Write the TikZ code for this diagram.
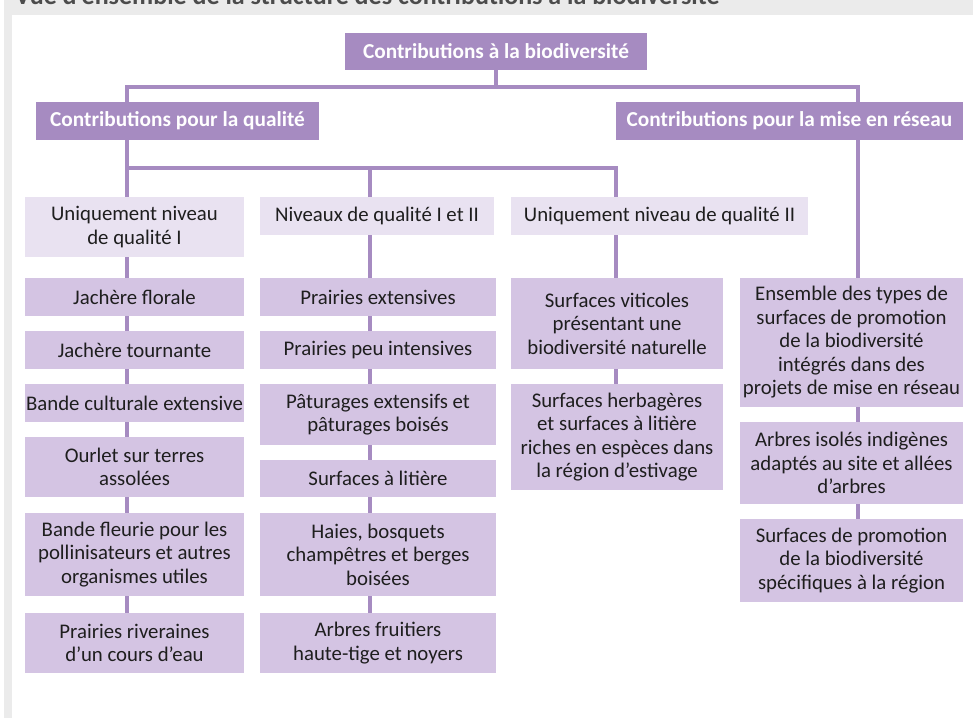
\documentclass[tikz,border=0pt]{standalone}
\usepackage{fontspec}
\setmainfont{Carlito}
\usetikzlibrary{calc}
\definecolor{mauve}{HTML}{A68BC1}
\definecolor{lilas}{HTML}{D4C4E3}
\definecolor{lilasclair}{HTML}{E9E2F1}
\definecolor{fond}{HTML}{EBEBEB}
\definecolor{encre}{HTML}{1E1E1E}
\tikzset{
    head/.style={fill=mauve, text=white, inner sep=0pt, align=center,
        font=\bfseries\fontsize{21.3}{24}\selectfont},
    level/.style={fill=lilasclair, text=encre, inner sep=0pt, align=center,
        font=\fontsize{20.8}{23.5}\selectfont},
    box/.style={fill=lilas, text=encre, inner sep=0pt, align=center,
        font=\fontsize{20.8}{23.5}\selectfont},
    titre/.style={text=black!70, inner sep=0pt, font=\bfseries\fontsize{26}{28}\selectfont},
    link/.style={draw=mauve, line width=4pt}
}

\begin{document}
\begin{tikzpicture}[x=1pt, y=-1pt]
    \useasboundingbox (0,0) rectangle (973,718);
    % cadre gris
    \fill[fond] (4,0) rectangle (973,15);
    \fill[fond] (4,0) rectangle (12,718);
    \begin{scope}
        \clip (4,0) rectangle (973,15);
        \node[titre, anchor=base west] (titre) at (15,4) {Vue d’ensemble de la structure des contributions à la biodiversité};
    \end{scope}

    % niveaux superieurs
    \node[head, minimum width=302, minimum height=37] (root) at (496,51.5) {Contributions à la biodiversité};
    \node[head, minimum width=283, minimum height=38] (qual) at (177.5,121) {Contributions pour la qualité};
    \node[head, minimum width=347, minimum height=38] (res) at (789.5,121) {Contributions pour la mise en réseau};
    \node[level, minimum width=219, minimum height=60] (nA) at (134.5,227) {Uniquement niveau\\de qualité I};
    \node[level, minimum width=234, minimum height=38] (nB) at (377,216) {Niveaux de qualité I et II};
    \node[level, minimum width=297, minimum height=38] (nC) at (659.5,216) {Uniquement niveau de qualité II};

    % colonne A
    \begin{scope}[every node/.style={box, minimum width=219}]
        \node[minimum height=38] (a1) at (134.5,297) {Jachère florale};
        \node[minimum height=38] (a2) at (134.5,350) {Jachère tournante};
        \node[minimum height=38] (a3) at (134.5,403) {Bande culturale extensive};
        \node[minimum height=60] (a4) at (134.5,467) {Ourlet sur terres\\assolées};
        \node[minimum height=83] (a5) at (134.5,554.5) {Bande fleurie pour les\\pollinisateurs et autres\\organismes utiles};
        \node[minimum height=60] (a6) at (134.5,643) {Prairies riveraines\\d’un cours d’eau};
    \end{scope}
    % colonne B
    \begin{scope}[every node/.style={box, minimum width=236}]
        \node[minimum height=38] (b1) at (378,297) {Prairies extensives};
        \node[minimum height=38] (b2) at (378,350) {Prairies peu intensives};
        \node[minimum height=61] (b3) at (378,414.5) {Pâturages extensifs et\\pâturages boisés};
        \node[minimum height=37] (b4) at (378,478.5) {Surfaces à litière};
        \node[minimum height=83] (b5) at (378,554.5) {Haies, bosquets\\champêtres et berges\\boisées};
        \node[minimum height=60] (b6) at (378,643) {Arbres fruitiers\\haute-tige et noyers};
    \end{scope}
    % colonne C
    \begin{scope}[every node/.style={box, minimum width=212}]
        \node[minimum height=91] (c1) at (617,323.5) {Surfaces viticoles\\présentant une\\biodiversité naturelle};
        \node[minimum height=106] (c2) at (617,437) {Surfaces herbagères\\et surfaces à litière\\riches en espèces dans\\la région d’estivage};
    \end{scope}
    % colonne D
    \begin{scope}[every node/.style={box, minimum width=223}]
        \node[minimum height=129] (d1) at (851.5,342.5) {Ensemble des types de\\surfaces de promotion\\de la biodiversité\\intégrés dans des\\projets de mise en réseau};
        \node[minimum height=82] (d2) at (851.5,463) {Arbres isolés indigènes\\adaptés au site et allées\\d’arbres};
        \node[minimum height=83] (d3) at (851.5,560.5) {Surfaces de promotion\\de la biodiversité\\spécifiques à la région};
    \end{scope}

    % liaisons
    \coordinate (xA) at (127,0);
    \coordinate (xB) at (370,0);
    \coordinate (xC) at (616,0);
    \coordinate (xD) at (858,0);
    \draw[link] (root.south) -- ++(0,17) coordinate (hub);
    \draw[link] (qual.north -| xA) |- (hub) -| (res.north -| xD);
    \draw[link] (qual.south -| xA) -- (nA.north -| xA);
    \path (qual.south -| xA) ++(0,28) coordinate (bus);
    \draw[link] (bus) -| (nB.north -| xB);
    \draw[link] (bus) -| (nC.north -| xC);
    \draw[link] (res.south -| xD) -- (d1.north -| xD);
    \foreach \u/\v in {nA/a1, a1/a2, a2/a3, a3/a4, a4/a5, a5/a6}
        \draw[link] (\u.south -| xA) -- (\v.north -| xA);
    \foreach \u/\v in {nB/b1, b1/b2, b2/b3, b3/b4, b4/b5, b5/b6}
        \draw[link] (\u.south -| xB) -- (\v.north -| xB);
    \foreach \u/\v in {nC/c1, c1/c2}
        \draw[link] (\u.south -| xC) -- (\v.north -| xC);
    \foreach \u/\v in {d1/d2, d2/d3}
        \draw[link] (\u.south -| xD) -- (\v.north -| xD);
\end{tikzpicture}
\end{document}
